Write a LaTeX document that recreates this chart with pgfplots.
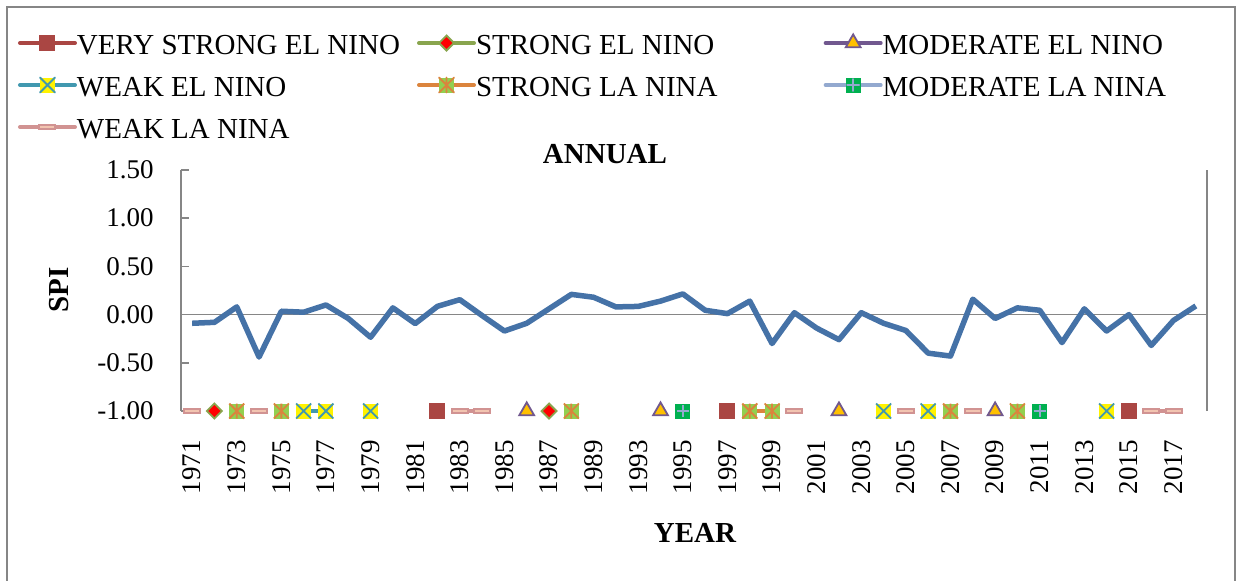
\documentclass[border=0pt]{standalone}
\usepackage{fontspec}
\setmainfont{Liberation Serif}
\usepackage{pgfplots}
\pgfplotsset{compat=1.18}
\definecolor{cspi}{HTML}{4572A7}
\definecolor{cvs}{HTML}{AA4643}
\definecolor{cse}{HTML}{89A54E}
\definecolor{cme}{HTML}{71588F}
\definecolor{cwe}{HTML}{4198AF}
\definecolor{csl}{HTML}{DB843D}
\definecolor{cml}{HTML}{93A9CF}
\definecolor{cwl}{HTML}{D19392}
\definecolor{cwlin}{HTML}{F2C4B0}
\definecolor{ctri}{HTML}{FFC000}
\definecolor{cslfill}{HTML}{92D050}
\definecolor{cmlfill}{HTML}{00B050}
\definecolor{axgray}{HTML}{868686}
\pgfdeclareplotmark{xbox}{%
  \pgfpathrectangle{\pgfqpoint{-\pgfplotmarksize}{-\pgfplotmarksize}}{\pgfqpoint{2\pgfplotmarksize}{2\pgfplotmarksize}}%
  \pgfusepathqfill
  \pgfpathmoveto{\pgfqpoint{-\pgfplotmarksize}{-\pgfplotmarksize}}\pgfpathlineto{\pgfqpoint{\pgfplotmarksize}{\pgfplotmarksize}}%
  \pgfpathmoveto{\pgfqpoint{-\pgfplotmarksize}{\pgfplotmarksize}}\pgfpathlineto{\pgfqpoint{\pgfplotmarksize}{-\pgfplotmarksize}}%
  \pgfusepathqstroke}
\pgfdeclareplotmark{starbox}{%
  \pgfpathrectangle{\pgfqpoint{-\pgfplotmarksize}{-\pgfplotmarksize}}{\pgfqpoint{2\pgfplotmarksize}{2\pgfplotmarksize}}%
  \pgfusepathqfill
  \pgfpathmoveto{\pgfqpoint{-\pgfplotmarksize}{-\pgfplotmarksize}}\pgfpathlineto{\pgfqpoint{\pgfplotmarksize}{\pgfplotmarksize}}%
  \pgfpathmoveto{\pgfqpoint{-\pgfplotmarksize}{\pgfplotmarksize}}\pgfpathlineto{\pgfqpoint{\pgfplotmarksize}{-\pgfplotmarksize}}%
  \pgfpathmoveto{\pgfqpoint{0pt}{-\pgfplotmarksize}}\pgfpathlineto{\pgfqpoint{0pt}{\pgfplotmarksize}}%
  \pgfusepathqstroke}
\pgfdeclareplotmark{plusbox}{%
  \pgfpathrectangle{\pgfqpoint{-\pgfplotmarksize}{-\pgfplotmarksize}}{\pgfqpoint{2\pgfplotmarksize}{2\pgfplotmarksize}}%
  \pgfusepathqfill
  \pgfpathmoveto{\pgfqpoint{-0.8\pgfplotmarksize}{0pt}}\pgfpathlineto{\pgfqpoint{0.8\pgfplotmarksize}{0pt}}%
  \pgfpathmoveto{\pgfqpoint{0pt}{-0.8\pgfplotmarksize}}\pgfpathlineto{\pgfqpoint{0pt}{0.8\pgfplotmarksize}}%
  \pgfusepathqstroke}
\pgfdeclareplotmark{dashbox}{%
  \pgfpathrectangle{\pgfqpoint{-\pgfplotmarksize}{-0.22\pgfplotmarksize}}{\pgfqpoint{2\pgfplotmarksize}{0.44\pgfplotmarksize}}%
  \pgfusepathqfillstroke}
\begin{document}
\begin{tikzpicture}[font=\fontsize{14.5}{17}\selectfont]
\begin{axis}[
  name=ax,
  scale only axis, width=513pt, height=120.5pt,
  xmin=-0.5, xmax=45.5, ymin=-1, ymax=1.5,
  clip=false,
  separate axis lines,
  x axis line style={draw=none},
  y axis line style={draw=axgray, line width=0.75pt},
  xtick={0,2,...,44},
  xticklabels={1971,1973,1975,1977,1979,1981,1983,1985,1987,1989,1993,1995,1997,1999,2001,2003,2005,2007,2009,2011,2013,2015,2017},
  xtick pos=left, ytick pos=left,
  x tick style={draw=none},
  xticklabel style={rotate=90, anchor=east, inner sep=0pt},
  xticklabel shift=14.5pt,
  ytick={-1,-0.5,0,0.5,1,1.5},
  yticklabels={-1.00,-0.50,0.00,0.50,1.00,1.50},
  yticklabel style={inner sep=0pt},
  yticklabel shift=13.5pt,
  tick label style={font=\fontsize{13.5}{16}\selectfont},
  ytick align=inside, major tick length=4pt,
  y tick style={axgray, line width=0.75pt},
  extra y ticks={0}, extra y tick labels={},
  extra y tick style={grid=major, major grid style={axgray, line width=0.75pt}},
  unbounded coords=jump,
  legend columns=3,
  legend cell align=left,
  legend style={draw=none, fill=none, inner sep=0pt, outer sep=0pt, at={(rel axis cs:0,1)}, anchor=north west,
    xshift=-81.5pt, yshift=68pt, font=\fontsize{14.5}{17}\selectfont,
    nodes={inner sep=0pt, text height=10pt, text depth=3pt},
    row sep=8pt, column sep=0pt,
    /tikz/column 1/.style={column sep=0pt},
    /tikz/column 2/.style={column sep=8.5pt},
    /tikz/column 3/.style={column sep=0pt},
    /tikz/column 4/.style={column sep=53pt},
    /tikz/column 5/.style={column sep=0pt}},
  legend image code/.code={\draw[mark repeat=2,mark phase=2,line cap=round,#1] plot coordinates {(0pt,2pt)(13.75pt,2pt)(27.5pt,2pt)};},
]
\addplot[color=cspi, line width=2.75pt, line join=round, no markers, forget plot] coordinates {
(0,-0.09)(1,-0.08)(2,0.08)(3,-0.44)(4,0.035)(5,0.025)(6,0.10)(7,-0.04)(8,-0.235)(9,0.07)
(10,-0.093)(11,0.086)(12,0.155)(13,-0.01)(14,-0.17)(15,-0.09)(16,0.06)(17,0.21)(18,0.18)(19,0.08)
(20,0.085)(21,0.14)(22,0.215)(23,0.045)(24,0.01)(25,0.14)(26,-0.30)(27,0.02)(28,-0.14)(29,-0.26)
(30,0.02)(31,-0.09)(32,-0.165)(33,-0.40)(34,-0.43)(35,0.16)(36,-0.04)(37,0.07)(38,0.045)(39,-0.29)
(40,0.06)(41,-0.17)(42,0.00)(43,-0.32)(44,-0.06)(45,0.09)};
\addplot[color=cvs, line width=2pt, mark=square*, mark size=3.75pt, mark options={solid, fill=cvs, draw=cvs, line width=0.5pt}] coordinates {
(11,-1)(12,nan)(24,-1)(25,nan)(42,-1)};
\addlegendentry{VERY STRONG EL NINO}
\addplot[color=cse, line width=2pt, mark=square*, mark size=2.65pt, mark options={solid, rotate=45, fill=red, draw=cse, line width=0.9pt}] coordinates {
(1,-1)(2,nan)(16,-1)};
\addlegendentry{STRONG EL NINO}
\addplot[color=cme, line width=2pt, mark=triangle*, mark size=4.3pt, mark options={solid, fill=ctri, draw=cme, line width=0.9pt}] coordinates {
(15,-1)(16,nan)(21,-1)(22,nan)(29,-1)(30,nan)(36,-1)};
\addlegendentry{MODERATE EL NINO}
\addplot[color=cwe, line width=2pt, mark=xbox, mark size=3.75pt, mark options={solid, fill=yellow, draw=cwe, line width=0.9pt}] coordinates {
(5,-1)(6,-1)(7,nan)(8,-1)(9,nan)(31,-1)(32,nan)(33,-1)(34,nan)(41,-1)};
\addlegendentry{WEAK EL NINO}
\addplot[color=csl, line width=2pt, mark=starbox, mark size=3.75pt, mark options={solid, fill=cslfill, draw=csl, line width=0.9pt}] coordinates {
(2,-1)(3,nan)(4,-1)(5,nan)(17,-1)(18,nan)(25,-1)(26,-1)(27,nan)(34,-1)(35,nan)(37,-1)};
\addlegendentry{STRONG LA NINA}
\addplot[color=cml, line width=2pt, mark=plusbox, mark size=3.75pt, mark options={solid, fill=cmlfill, draw=cml, line width=0.9pt}] coordinates {
(22,-1)(23,nan)(38,-1)};
\addlegendentry{MODERATE LA NINA}
\addplot[color=cwl, line width=2pt, mark=dashbox, mark size=4pt, mark options={solid, fill=cwlin, draw=cwl, line width=1pt}] coordinates {
(0,-1)(1,nan)(3,-1)(4,nan)(12,-1)(13,-1)(14,nan)(27,-1)(28,nan)(32,-1)(33,nan)(35,-1)(36,nan)(43,-1)(44,-1)};
\addlegendentry{WEAK LA NINA}
\end{axis}
\node[font=\bfseries\fontsize{14.5}{17}\selectfont, xshift=212pt, yshift=128.5pt] at (ax.south west) {ANNUAL};
\node[font=\bfseries\fontsize{14.5}{17}\selectfont, xshift=257pt, yshift=-61pt] at (ax.south west) {YEAR};
\node[font=\bfseries\fontsize{14.5}{17}\selectfont, rotate=90, xshift=60.5pt, yshift=61pt] at (ax.south west) {SPI};
\draw[axgray, line width=0.75pt] ([xshift=-87pt,yshift=-100pt]ax.south west) -- ([xshift=-87pt,yshift=202pt]ax.south west) -- ([xshift=527pt,yshift=202pt]ax.south west) -- ([xshift=527pt,yshift=-100pt]ax.south west);
\pgfresetboundingbox
\path ([xshift=-90.5pt,yshift=-84.5pt]ax.south west) rectangle ([xshift=530pt,yshift=205.5pt]ax.south west);
\end{tikzpicture}
\end{document}
